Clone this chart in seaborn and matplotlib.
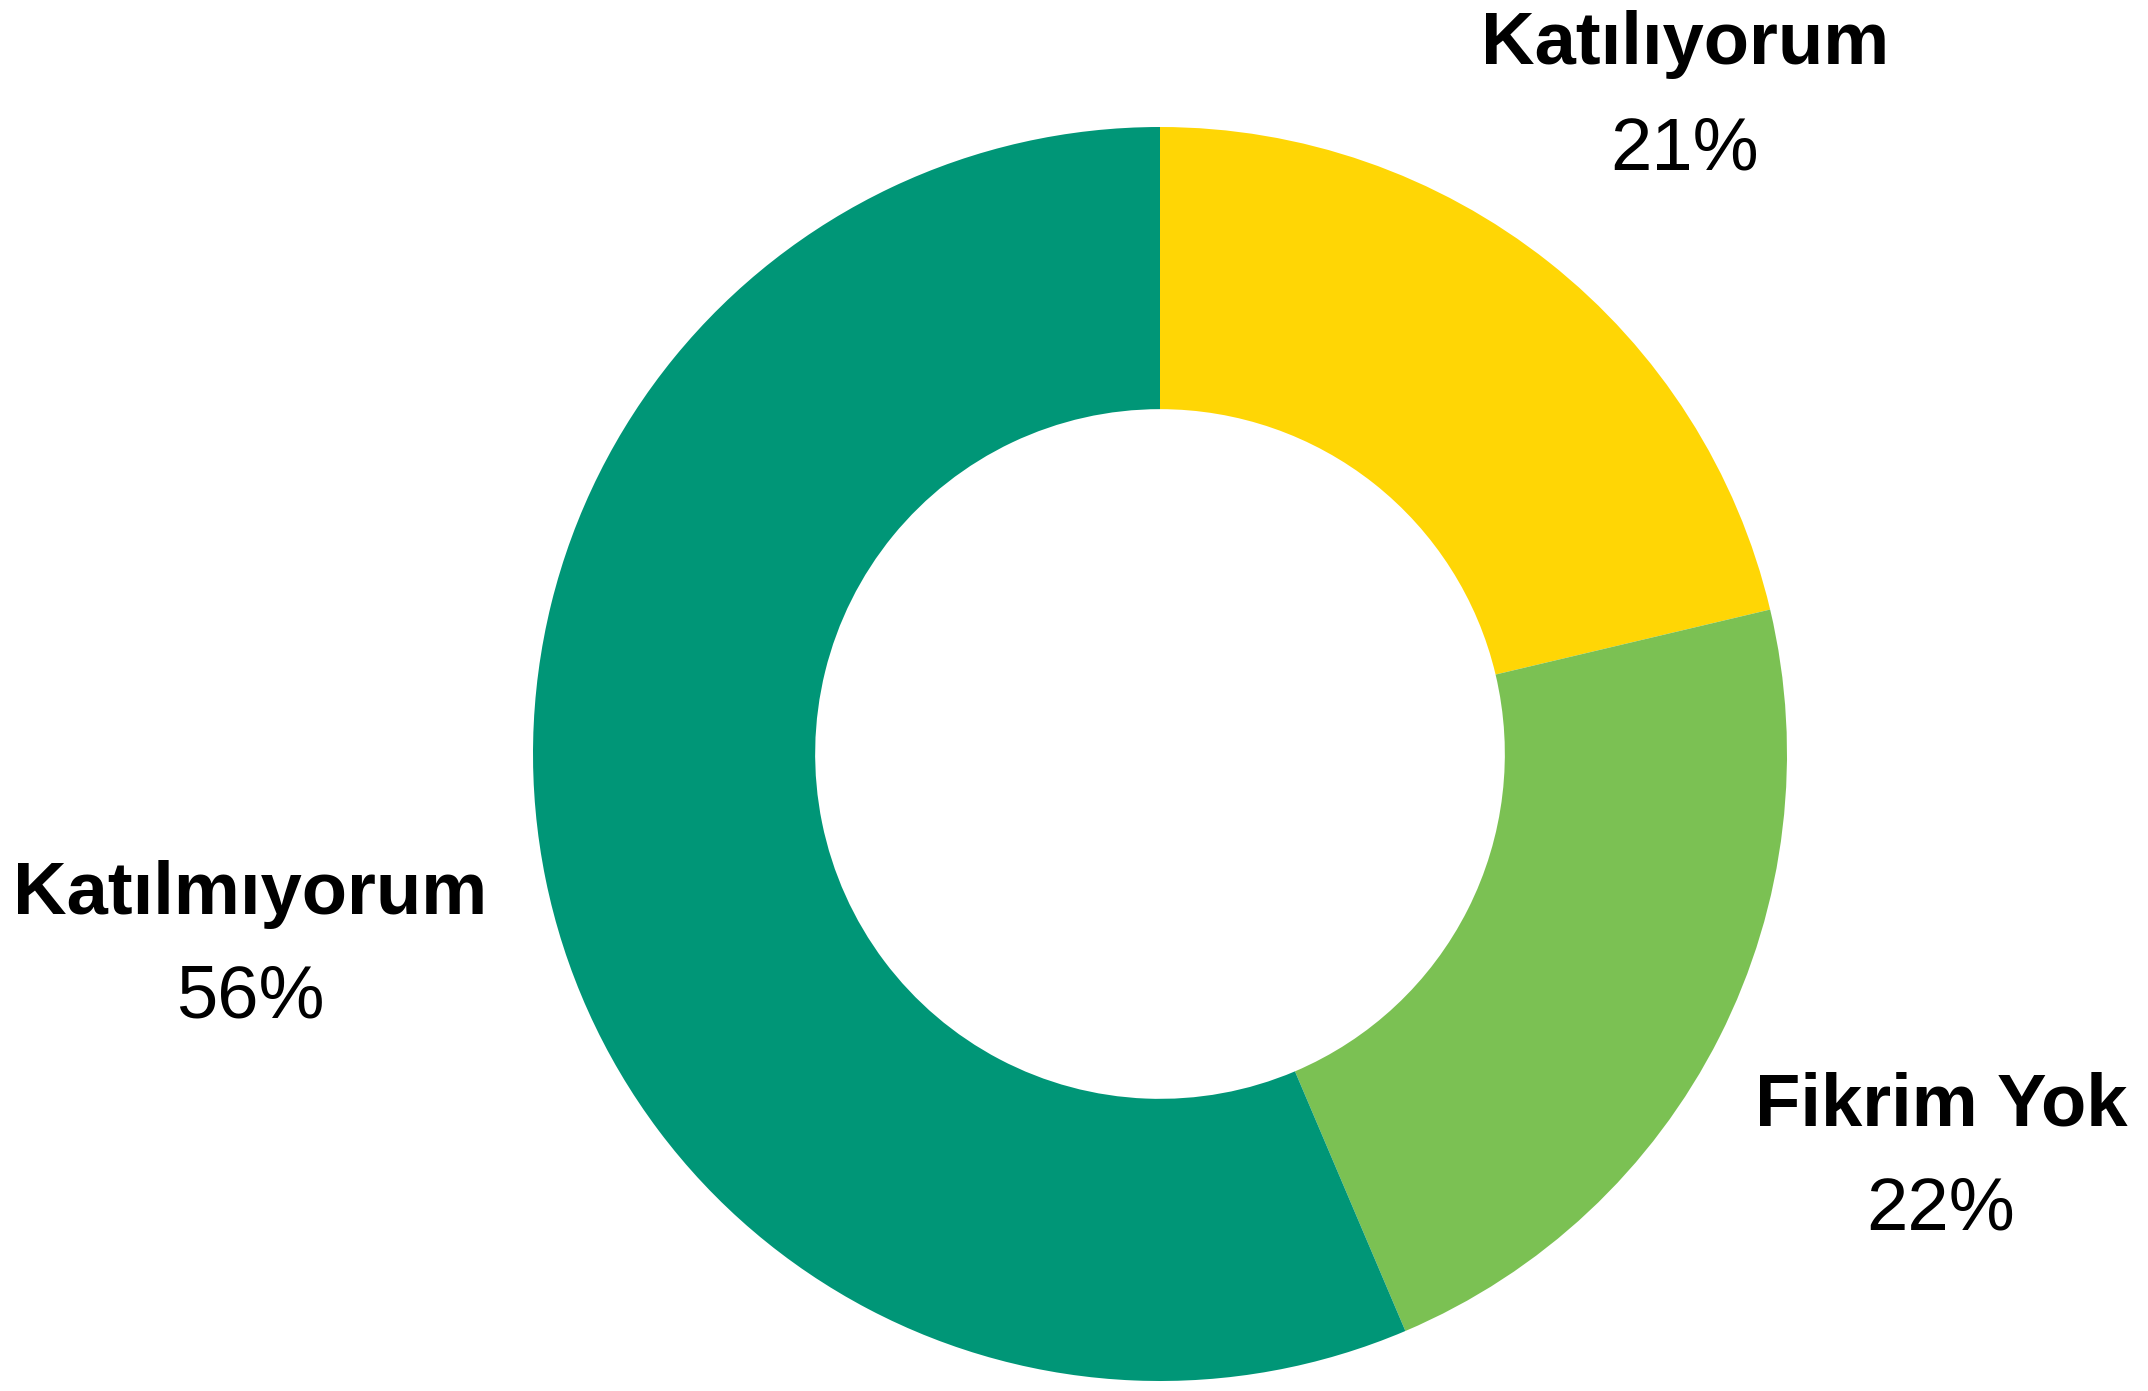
import matplotlib
matplotlib.use("Agg")
import matplotlib.pyplot as plt
import seaborn as sns

# survey answers (share of respondents, %)
categories = ["Katılıyorum", "Fikrim Yok", "Katılmıyorum"]
values = [21.3, 22.3, 56.4]
pct_labels = ["21%", "22%", "56%"]
colors = ["#FFD605", "#7BC153", "#009677"]

sns.set_theme(style="white")
plt.rcParams["font.family"] = ["Liberation Sans", "DejaVu Sans"]

W, H = 2148, 1391
CX, CY, R = 1160, 754, 627   # pie centre / radius in pixels


def to_data(px, py):
    return (px - CX) / R, (CY - py) / R


fig = plt.figure(figsize=(W / 100, H / 100), dpi=100)
ax = fig.add_axes([0, 0, 1, 1])

ax.pie(values, colors=colors, startangle=90, counterclock=False, radius=1,
       wedgeprops=dict(width=0.45, linewidth=0))

ax.set_xlim(to_data(0, 0)[0], to_data(W, 0)[0])
ax.set_ylim(to_data(0, H)[1], to_data(0, 0)[1])
ax.set_aspect("auto")
ax.axis("off")

# label positions (pixel centre x, baseline of name, baseline of percentage)
label_pos = [(1685, 64, 170), (1941, 1126, 1229), (250, 914, 1018)]
for name, pct, (px, yb1, yb2) in zip(categories, pct_labels, label_pos):
    x, y1 = to_data(px, yb1)
    _, y2 = to_data(px, yb2)
    ax.text(x, y1, name, ha="center", va="baseline", fontsize=53.5,
            fontweight="bold", color="black")
    ax.text(x, y2, pct, ha="center", va="baseline", fontsize=53.5,
            color="black")

fig.savefig("out.png", dpi=100, facecolor="white")
